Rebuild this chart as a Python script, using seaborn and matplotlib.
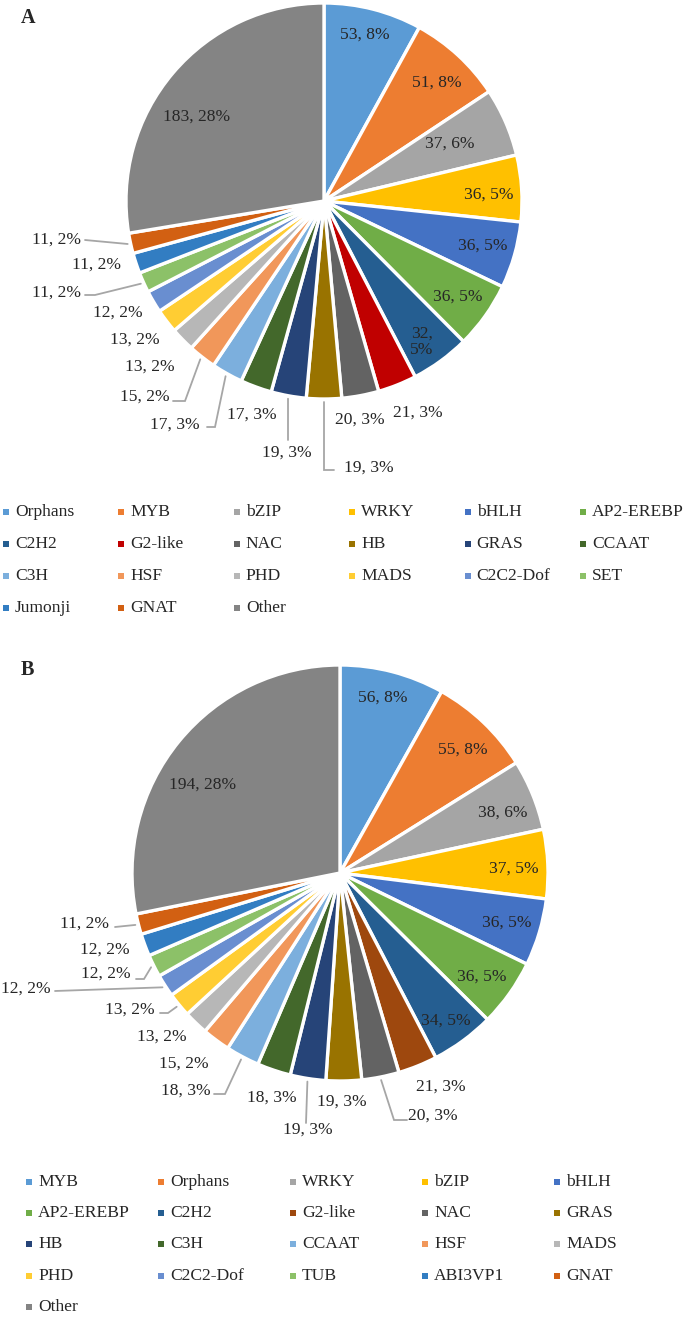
"""Two pie charts of transcription factor families (panels A and B)."""

import matplotlib
import numpy as np
import seaborn as sns
from matplotlib import pyplot as plt

matplotlib.use("Agg")

# ---- data -------------------------------------------------------------
families_a = ["Orphans", "MYB", "bZIP", "WRKY", "bHLH", "AP2-EREBP", "C2H2",
              "G2-like", "NAC", "HB", "GRAS", "CCAAT", "C3H", "HSF", "PHD",
              "MADS", "C2C2-Dof", "SET", "Jumonji", "GNAT", "Other"]
counts_a = [53, 51, 37, 36, 36, 36, 32, 21, 20, 19, 19, 17, 17, 15, 13,
            13, 12, 11, 11, 11, 183]

families_b = ["MYB", "Orphans", "WRKY", "bZIP", "bHLH", "AP2-EREBP", "C2H2",
              "G2-like", "NAC", "GRAS", "HB", "C3H", "CCAAT", "HSF", "MADS",
              "PHD", "C2C2-Dof", "TUB", "ABI3VP1", "GNAT", "Other"]
counts_b = [56, 55, 38, 37, 36, 36, 34, 21, 20, 19, 19, 18, 18, 15, 13,
            13, 12, 12, 12, 11, 194]

# ---- styles -----------------------------------------------------------
office = ["#5B9BD5", "#ED7D31", "#A5A5A5", "#FFC000", "#4472C4", "#70AD47",
          "#255E91", "#9E480E", "#636363", "#997300", "#264478", "#43682B",
          "#7CAFDD", "#F1975A", "#B7B7B7", "#FFCD33", "#698ED0", "#8CC168",
          "#327DC2", "#D26012", "#848484"]
colors_a = office.copy()
colors_a[7] = "#C00000"
colors_b = office.copy()

W, H, DPI = 686, 1318, 100
FS = 12.6
LEADER = "#A6A6A6"

# label centres (pixels) per slice, and leader lines: index -> (elbow, end)
label_pos_a = [(365, 35), (437, 83), (450, 144), (489, 195), (483, 246),
               (458, 297), (422, 342), (418, 413), (360, 420), (369, 468),
               (287, 453), (252, 415), (175, 425), (145, 397), (150, 367),
               (135, 340), (118, 313), (57, 293), (97, 265), (57, 240),
               (197, 117)]
leaders_a = {9: ((324, 470), (334, 470)), 10: ((288, 440), (288, 440)),
             12: ((215, 427), (207, 427)), 13: ((185, 401), (173, 401)),
             17: ((95, 295), (85, 295)), 19: ((85, 240), (85, 240))}

label_pos_b = [(383, 698), (463, 750), (503, 813), (514, 869), (507, 923),
               (482, 977), (446, 1021), (441, 1087), (433, 1116), (342, 1102),
               (308, 1130), (272, 1098), (186, 1091), (184, 1064), (162, 1037),
               (130, 1010), (26, 989), (106, 974), (105, 950), (85, 924),
               (203, 785)]
leaders_b = {8: ((394, 1120), (407, 1120)), 10: ((306, 1123), (306, 1123)),
             12: ((225, 1094), (214, 1094)), 15: ((168, 1013), (160, 1013)),
             16: ((55, 991), (55, 991)), 17: ((144, 979), (136, 979)),
             19: ((115, 927), (115, 927))}


def draw_pie(ax, counts, colors, center, radius, label_pos, leaders, wrap=()):
    total = sum(counts)
    wedges, _ = ax.pie(counts, colors=colors, startangle=-90, counterclock=True,
                       center=center, radius=radius,
                       wedgeprops=dict(edgecolor="white", linewidth=2.4))
    for i, (wedge, value) in enumerate(zip(wedges, counts)):
        pct = int(round(value / total * 100))
        text = f"{value},\n{pct}%" if i in wrap else f"{value}, {pct}%"
        lx, ly = label_pos[i]
        ax.text(lx, ly, text, ha="center", va="center", fontsize=FS,
                linespacing=1.0)
        if i in leaders:
            mid = np.deg2rad((wedge.theta1 + wedge.theta2) / 2)
            sx = center[0] + radius * 1.015 * np.cos(mid)
            sy = center[1] + radius * 1.015 * np.sin(mid)
            (ex, ey), (tx, ty) = leaders[i]
            ax.plot([sx, ex, tx], [sy, ey, ty], color=LEADER, lw=1.3,
                    solid_joinstyle="miter")


def draw_legend(ax, names, colors, x0, y0, dx, dy, ncol):
    for i, (name, color) in enumerate(zip(names, colors)):
        x = x0 + (i % ncol) * dx
        y = y0 + (i // ncol) * dy
        ax.scatter([x], [y], marker="s", s=18, color=color, linewidths=0)
        ax.text(x + 9, y, name, ha="left", va="center", fontsize=FS)


sns.set_theme(style="white")
plt.rcParams["font.family"] = ["Liberation Serif", "DejaVu Serif"]

fig = plt.figure(figsize=(W / DPI, H / DPI), dpi=DPI)
ax = fig.add_axes([0, 0, 1, 1])

draw_pie(ax, counts_a, colors_a, (324, 201), 198, label_pos_a, leaders_a, wrap=(6,))
draw_pie(ax, counts_b, colors_b, (340, 873), 208, label_pos_b, leaders_b)

draw_legend(ax, families_a, colors_a, 6, 512, 115.4, 32, 6)
draw_legend(ax, families_b, colors_b, 29, 1182, 132, 31.2, 5)

ax.text(28, 18, "A", ha="center", va="center", fontsize=14.5, fontweight="bold")
ax.text(27, 670, "B", ha="center", va="center", fontsize=14.5, fontweight="bold")

ax.set_xlim(0, W)
ax.set_ylim(H, 0)
ax.set_aspect("equal")
ax.axis("off")

fig.savefig("out.png", dpi=DPI, facecolor="white")
